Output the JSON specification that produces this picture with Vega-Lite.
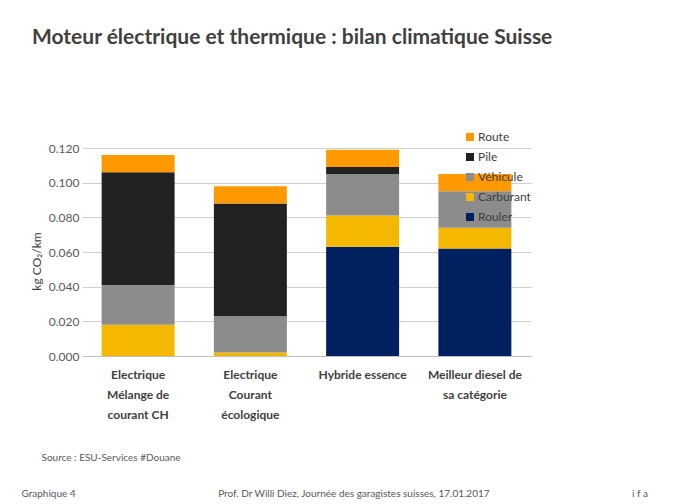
{
  "$schema": "https://vega.github.io/schema/vega-lite/v6.json",
  "width": 449,
  "height": 208,
  "autosize": {"type": "none"},
  "padding": {"left": 82, "top": 148, "right": 152, "bottom": 148},
  "background": "white",
  "title": {
    "text": "Moteur électrique et thermique : bilan climatique Suisse",
    "anchor": "start",
    "frame": "group",
    "font": "Lato",
    "fontSize": 21,
    "fontWeight": "bold",
    "color": "#404040",
    "dx": -50,
    "dy": -79
  },
  "data": {
    "values": [
      {"categorie": "Electrique Mélange de courant CH", "poste": "Rouler", "valeur": 0},
      {"categorie": "Electrique Mélange de courant CH", "poste": "Carburant", "valeur": 0.018},
      {"categorie": "Electrique Mélange de courant CH", "poste": "Véhicule", "valeur": 0.023},
      {"categorie": "Electrique Mélange de courant CH", "poste": "Pile", "valeur": 0.065},
      {"categorie": "Electrique Mélange de courant CH", "poste": "Route", "valeur": 0.010},
      {"categorie": "Electrique Courant écologique", "poste": "Rouler", "valeur": 0},
      {"categorie": "Electrique Courant écologique", "poste": "Carburant", "valeur": 0.002},
      {"categorie": "Electrique Courant écologique", "poste": "Véhicule", "valeur": 0.021},
      {"categorie": "Electrique Courant écologique", "poste": "Pile", "valeur": 0.065},
      {"categorie": "Electrique Courant écologique", "poste": "Route", "valeur": 0.010},
      {"categorie": "Hybride essence", "poste": "Rouler", "valeur": 0.063},
      {"categorie": "Hybride essence", "poste": "Carburant", "valeur": 0.018},
      {"categorie": "Hybride essence", "poste": "Véhicule", "valeur": 0.024},
      {"categorie": "Hybride essence", "poste": "Pile", "valeur": 0.004},
      {"categorie": "Hybride essence", "poste": "Route", "valeur": 0.010},
      {"categorie": "Meilleur diesel de sa catégorie", "poste": "Rouler", "valeur": 0.062},
      {"categorie": "Meilleur diesel de sa catégorie", "poste": "Carburant", "valeur": 0.012},
      {"categorie": "Meilleur diesel de sa catégorie", "poste": "Véhicule", "valeur": 0.021},
      {"categorie": "Meilleur diesel de sa catégorie", "poste": "Pile", "valeur": 0},
      {"categorie": "Meilleur diesel de sa catégorie", "poste": "Route", "valeur": 0.010}
    ]
  },
  "transform": [
    {"calculate": "indexof(['Rouler', 'Carburant', 'Véhicule', 'Pile', 'Route'], datum.poste)", "as": "ordre_pile"}
  ],
  "mark": {"type": "bar", "strokeWidth": 0},
  "encoding": {
    "x": {
      "field": "categorie",
      "type": "nominal",
      "sort": null,
      "scale": {"paddingInner": 0.35, "paddingOuter": 0.175},
      "axis": {
        "labelAngle": 0,
        "ticks": false,
        "domainColor": "#bfbfbf",
        "labelFont": "Lato",
        "labelFontWeight": "bold",
        "labelFontSize": 12,
        "labelColor": "#404040",
        "labelLineHeight": 20,
        "labelPadding": 13,
        "labelExpr": "datum.value == 'Electrique Mélange de courant CH' ? ['Electrique', 'Mélange de', 'courant CH'] : datum.value == 'Electrique Courant écologique' ? ['Electrique', 'Courant', 'écologique'] : datum.value == 'Meilleur diesel de sa catégorie' ? ['Meilleur diesel de', 'sa catégorie'] : datum.label",
        "title": ["\u200b\u2003\u2003\u2002Source : ESU-Services #Douane", "Graphique 4\u2003\u2003\u2003\u2003\u2003\u2003\u2003\u2003\u2003\u2003\u2003\u2003\u2003\u2003\u2003\u2003\u2003\u2003\u2003Prof. Dr Willi Diez, Journée des garagistes suisses, 17.01.2017\u2003\u2003\u2003\u2003\u2003\u2003\u2003\u2003\u2003\u2003\u2003\u2003\u2003\u2003\u2003\u2003\u2003\u2003\u2003i f a"],
        "titleFont": "Lato",
        "titleFontSize": 10,
        "titleFontWeight": "normal",
        "titleColor": "#595959",
        "titleAnchor": "start",
        "titleAlign": "left",
        "titleBaseline": "alphabetic",
        "titleX": -61,
        "titleY": 104,
        "titleLineHeight": 36
      }
    },
    "y": {
      "field": "valeur",
      "type": "quantitative",
      "stack": "zero",
      "scale": {"domain": [0, 0.12], "nice": false},
      "axis": {
        "values": [0, 0.02, 0.04, 0.06, 0.08, 0.1, 0.12],
        "format": ".3f",
        "ticks": false,
        "domain": false,
        "grid": true,
        "gridColor": "#d0d0d0",
        "labelFont": "Lato",
        "labelFontSize": 12,
        "labelColor": "#595959",
        "labelPadding": 3,
        "title": "kg CO₂/km",
        "titleFont": "Lato",
        "titleFontSize": 12,
        "titleFontWeight": "normal",
        "titleColor": "#404040",
        "titleBaseline": "alphabetic",
        "titleX": -42,
        "titleY": 113
      }
    },
    "color": {
      "field": "poste",
      "type": "nominal",
      "sort": ["Rouler", "Carburant", "Véhicule", "Pile", "Route"],
      "scale": {
        "domain": ["Rouler", "Carburant", "Véhicule", "Pile", "Route"],
        "range": ["#002060", "#F5B800", "#8C8C8C", "#222222", "#FF9900"]
      },
      "legend": {
        "title": null,
        "orient": "none",
        "legendX": 382,
        "legendY": -17,
        "values": ["Route", "Pile", "Véhicule", "Carburant", "Rouler"],
        "symbolType": "square",
        "symbolSize": 64,
        "symbolStrokeWidth": 0,
        "labelFont": "Lato",
        "labelFontSize": 12,
        "labelColor": "#404040",
        "labelOffset": 2,
        "rowPadding": 8,
        "padding": 0
      }
    },
    "order": {"field": "ordre_pile", "type": "quantitative"}
  },
  "config": {
    "font": "Lato",
    "view": {"stroke": null}
  }
}
